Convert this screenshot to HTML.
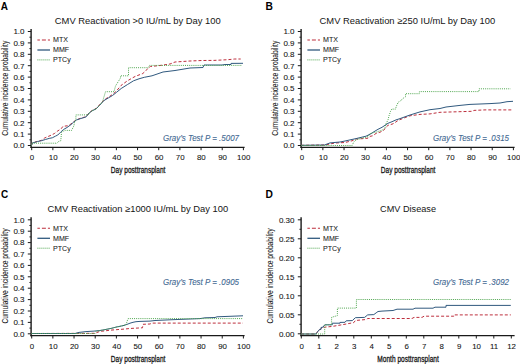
<!DOCTYPE html>
<html><head><meta charset="utf-8"><style>
html,body{margin:0;padding:0;background:#fff;}
svg{display:block;}
text{font-family:'Liberation Sans', sans-serif;}
</style></head><body>
<svg width="520" height="364" viewBox="0 0 520 364">
<rect width="520" height="364" fill="#fff"/>
<text x="0.7" y="9.8" font-size="11.4" font-weight="bold" fill="#000" textLength="7.2" lengthAdjust="spacingAndGlyphs">A</text>
<text x="54.8" y="24.1" font-size="9.35" fill="#151515" textLength="166.0" lengthAdjust="spacingAndGlyphs">CMV Reactivation &gt;0 IU/mL by Day 100</text>
<text transform="translate(7.9,135.8) rotate(-90)" x="0" y="0" font-size="8.8" fill="#151515" stroke="#151515" stroke-width="0.06" textLength="95" lengthAdjust="spacingAndGlyphs">Cumulative incidence probability</text>
<line x1="31.10" y1="29.0" x2="31.10" y2="148.0" stroke="#1a1a1a" stroke-width="1.4"/>
<line x1="30.40" y1="147.3" x2="244.6" y2="147.3" stroke="#1a1a1a" stroke-width="1.3"/>
<line x1="27.8" y1="145.50" x2="31.1" y2="145.50" stroke="#1a1a1a" stroke-width="1"/>
<text x="24.5" y="148.35" font-size="8" fill="#151515" stroke="#151515" stroke-width="0.08" text-anchor="end">0.0</text>
<line x1="29.4" y1="139.80" x2="31.1" y2="139.80" stroke="#1a1a1a" stroke-width="0.9"/>
<line x1="27.8" y1="134.10" x2="31.1" y2="134.10" stroke="#1a1a1a" stroke-width="1"/>
<text x="24.5" y="136.95" font-size="8" fill="#151515" stroke="#151515" stroke-width="0.08" text-anchor="end">0.1</text>
<line x1="29.4" y1="128.40" x2="31.1" y2="128.40" stroke="#1a1a1a" stroke-width="0.9"/>
<line x1="27.8" y1="122.70" x2="31.1" y2="122.70" stroke="#1a1a1a" stroke-width="1"/>
<text x="24.5" y="125.55" font-size="8" fill="#151515" stroke="#151515" stroke-width="0.08" text-anchor="end">0.2</text>
<line x1="29.4" y1="117.00" x2="31.1" y2="117.00" stroke="#1a1a1a" stroke-width="0.9"/>
<line x1="27.8" y1="111.30" x2="31.1" y2="111.30" stroke="#1a1a1a" stroke-width="1"/>
<text x="24.5" y="114.15" font-size="8" fill="#151515" stroke="#151515" stroke-width="0.08" text-anchor="end">0.3</text>
<line x1="29.4" y1="105.60" x2="31.1" y2="105.60" stroke="#1a1a1a" stroke-width="0.9"/>
<line x1="27.8" y1="99.90" x2="31.1" y2="99.90" stroke="#1a1a1a" stroke-width="1"/>
<text x="24.5" y="102.75" font-size="8" fill="#151515" stroke="#151515" stroke-width="0.08" text-anchor="end">0.4</text>
<line x1="29.4" y1="94.20" x2="31.1" y2="94.20" stroke="#1a1a1a" stroke-width="0.9"/>
<line x1="27.8" y1="88.50" x2="31.1" y2="88.50" stroke="#1a1a1a" stroke-width="1"/>
<text x="24.5" y="91.35" font-size="8" fill="#151515" stroke="#151515" stroke-width="0.08" text-anchor="end">0.5</text>
<line x1="29.4" y1="82.80" x2="31.1" y2="82.80" stroke="#1a1a1a" stroke-width="0.9"/>
<line x1="27.8" y1="77.10" x2="31.1" y2="77.10" stroke="#1a1a1a" stroke-width="1"/>
<text x="24.5" y="79.95" font-size="8" fill="#151515" stroke="#151515" stroke-width="0.08" text-anchor="end">0.6</text>
<line x1="29.4" y1="71.40" x2="31.1" y2="71.40" stroke="#1a1a1a" stroke-width="0.9"/>
<line x1="27.8" y1="65.70" x2="31.1" y2="65.70" stroke="#1a1a1a" stroke-width="1"/>
<text x="24.5" y="68.55" font-size="8" fill="#151515" stroke="#151515" stroke-width="0.08" text-anchor="end">0.7</text>
<line x1="29.4" y1="60.00" x2="31.1" y2="60.00" stroke="#1a1a1a" stroke-width="0.9"/>
<line x1="27.8" y1="54.30" x2="31.1" y2="54.30" stroke="#1a1a1a" stroke-width="1"/>
<text x="24.5" y="57.15" font-size="8" fill="#151515" stroke="#151515" stroke-width="0.08" text-anchor="end">0.8</text>
<line x1="29.4" y1="48.60" x2="31.1" y2="48.60" stroke="#1a1a1a" stroke-width="0.9"/>
<line x1="27.8" y1="42.90" x2="31.1" y2="42.90" stroke="#1a1a1a" stroke-width="1"/>
<text x="24.5" y="45.75" font-size="8" fill="#151515" stroke="#151515" stroke-width="0.08" text-anchor="end">0.9</text>
<line x1="29.4" y1="37.20" x2="31.1" y2="37.20" stroke="#1a1a1a" stroke-width="0.9"/>
<line x1="27.8" y1="31.50" x2="31.1" y2="31.50" stroke="#1a1a1a" stroke-width="1"/>
<text x="24.5" y="34.35" font-size="8" fill="#151515" stroke="#151515" stroke-width="0.08" text-anchor="end">1.0</text>
<line x1="31.70" y1="147.0" x2="31.70" y2="150.2" stroke="#1a1a1a" stroke-width="1"/>
<text x="32.00" y="160.2" font-size="7.9" fill="#151515" stroke="#151515" stroke-width="0.08" text-anchor="middle">0</text>
<line x1="52.87" y1="147.0" x2="52.87" y2="150.2" stroke="#1a1a1a" stroke-width="1"/>
<text x="53.17" y="160.2" font-size="7.9" fill="#151515" stroke="#151515" stroke-width="0.08" text-anchor="middle">10</text>
<line x1="74.04" y1="147.0" x2="74.04" y2="150.2" stroke="#1a1a1a" stroke-width="1"/>
<text x="74.34" y="160.2" font-size="7.9" fill="#151515" stroke="#151515" stroke-width="0.08" text-anchor="middle">20</text>
<line x1="95.21" y1="147.0" x2="95.21" y2="150.2" stroke="#1a1a1a" stroke-width="1"/>
<text x="95.51" y="160.2" font-size="7.9" fill="#151515" stroke="#151515" stroke-width="0.08" text-anchor="middle">30</text>
<line x1="116.38" y1="147.0" x2="116.38" y2="150.2" stroke="#1a1a1a" stroke-width="1"/>
<text x="116.68" y="160.2" font-size="7.9" fill="#151515" stroke="#151515" stroke-width="0.08" text-anchor="middle">40</text>
<line x1="137.55" y1="147.0" x2="137.55" y2="150.2" stroke="#1a1a1a" stroke-width="1"/>
<text x="137.85" y="160.2" font-size="7.9" fill="#151515" stroke="#151515" stroke-width="0.08" text-anchor="middle">50</text>
<line x1="158.72" y1="147.0" x2="158.72" y2="150.2" stroke="#1a1a1a" stroke-width="1"/>
<text x="159.02" y="160.2" font-size="7.9" fill="#151515" stroke="#151515" stroke-width="0.08" text-anchor="middle">60</text>
<line x1="179.89" y1="147.0" x2="179.89" y2="150.2" stroke="#1a1a1a" stroke-width="1"/>
<text x="180.19" y="160.2" font-size="7.9" fill="#151515" stroke="#151515" stroke-width="0.08" text-anchor="middle">70</text>
<line x1="201.06" y1="147.0" x2="201.06" y2="150.2" stroke="#1a1a1a" stroke-width="1"/>
<text x="201.36" y="160.2" font-size="7.9" fill="#151515" stroke="#151515" stroke-width="0.08" text-anchor="middle">80</text>
<line x1="222.23" y1="147.0" x2="222.23" y2="150.2" stroke="#1a1a1a" stroke-width="1"/>
<text x="222.53" y="160.2" font-size="7.9" fill="#151515" stroke="#151515" stroke-width="0.08" text-anchor="middle">90</text>
<line x1="243.40" y1="147.0" x2="243.40" y2="150.2" stroke="#1a1a1a" stroke-width="1"/>
<text x="243.70" y="160.2" font-size="7.9" fill="#151515" stroke="#151515" stroke-width="0.08" text-anchor="middle">100</text>
<text x="110.8" y="173.3" font-size="9.4" fill="#151515" stroke="#151515" stroke-width="0.3" textLength="54.6" lengthAdjust="spacingAndGlyphs">Day posttransplant</text>
<line x1="37.4" y1="40.0" x2="50.0" y2="40.0" stroke="#bd2f3d" stroke-width="1.1" stroke-dasharray="4,2" stroke-dashoffset="1.5"/>
<line x1="37.4" y1="50.0" x2="50.0" y2="50.0" stroke="#30597e" stroke-width="1.3"/>
<line x1="37.4" y1="59.9" x2="50.0" y2="59.9" stroke="#4fa64f" stroke-width="1" stroke-dasharray="1,1"/>
<text x="53.0" y="42.3" font-size="7.1" fill="#151515" stroke="#151515" stroke-width="0.04">MTX</text>
<text x="53.0" y="52.3" font-size="7.1" fill="#151515" stroke="#151515" stroke-width="0.04">MMF</text>
<text x="53.0" y="62.3" font-size="7.1" fill="#151515" stroke="#151515" stroke-width="0.04">PTCy</text>
<text x="163.0" y="141.1" font-size="8.2" font-style="italic" fill="#426892" stroke="#426892" stroke-width="0.1" textLength="76.0" lengthAdjust="spacingAndGlyphs">Gray’s Test <tspan>P</tspan> = .5007</text>
<polyline points="31.5,145.5 32.3,143.0 37.7,141.3 41.5,140.3 44.6,138.0 50.0,135.7 54.3,133.6 57.2,131.3 61.2,128.7 63.0,126.3 67.6,125.8 71.0,124.0 73.3,122.0 76.2,120.0 80.2,118.4 84.9,117.0 86.2,116.5 89.2,112.7 92.3,110.4 96.2,108.4 99.4,105.0 104.0,100.0 108.6,97.0 112.5,94.5 116.3,91.2 121.0,85.5 127.4,80.8 135.0,76.5 142.8,73.5 145.8,70.8 148.2,68.0 150.5,66.5 160.0,65.5 170.0,64.0 175.0,62.0 190.0,61.0 202.0,60.5 214.0,60.4 227.8,59.7 234.8,59.0 240.7,59.0" fill="none" stroke="#bd2f3d" stroke-width="1.0" stroke-dasharray="3,2"/>
<polyline points="31.5,145.5 32.3,143.0 37.7,141.5 41.5,140.7 45.4,139.5 49.2,138.4 52.3,137.8 55.4,136.2 57.8,135.0 60.7,132.1 63.5,129.5 67.0,127.5 71.0,124.6 73.3,122.4 76.2,120.1 80.2,118.7 84.9,117.3 86.2,116.8 89.2,113.0 92.3,110.7 96.2,108.8 99.4,105.5 104.0,100.5 108.6,97.8 112.5,95.5 116.3,92.5 121.2,88.5 127.4,84.6 133.5,80.8 139.0,78.8 144.3,77.3 152.0,75.8 163.0,72.0 175.0,70.5 190.0,68.0 203.0,67.5 204.0,65.0 222.0,65.0 225.0,64.5 231.0,64.5 231.0,63.4 243.0,63.3" fill="none" stroke="#30597e" stroke-width="1.0"/>
<polyline points="31.5,145.5 32.0,143.2 57.0,143.2 58.5,141.5 60.8,140.7 61.5,132.4 63.0,131.2 65.3,130.4 71.6,130.4 73.9,125.8 74.5,122.3 75.9,120.0 75.9,114.9 88.0,114.9 89.2,113.0 92.3,110.7 96.2,108.8 99.4,105.5 102.5,101.7 105.5,91.7 114.0,91.7 115.5,86.0 120.5,78.0 120.5,75.8 128.5,75.8 128.5,67.7 148.2,67.7 149.5,65.4 242.0,65.4" fill="none" stroke="#4fa64f" stroke-width="1" stroke-dasharray="1,1.1"/>
<text x="265.6" y="9.8" font-size="11.4" font-weight="bold" fill="#000" textLength="7.4" lengthAdjust="spacingAndGlyphs">B</text>
<text x="319.6" y="24.1" font-size="9.35" fill="#151515" textLength="175.6" lengthAdjust="spacingAndGlyphs">CMV Reactivation ≥250 IU/mL by Day 100</text>
<text transform="translate(277.9,135.8) rotate(-90)" x="0" y="0" font-size="8.8" fill="#151515" stroke="#151515" stroke-width="0.06" textLength="95" lengthAdjust="spacingAndGlyphs">Cumulative incidence probability</text>
<line x1="301.10" y1="29.0" x2="301.10" y2="148.0" stroke="#1a1a1a" stroke-width="1.4"/>
<line x1="300.40" y1="147.3" x2="514.6" y2="147.3" stroke="#1a1a1a" stroke-width="1.3"/>
<line x1="297.8" y1="145.50" x2="301.1" y2="145.50" stroke="#1a1a1a" stroke-width="1"/>
<text x="294.5" y="148.35" font-size="8" fill="#151515" stroke="#151515" stroke-width="0.08" text-anchor="end">0.0</text>
<line x1="299.4" y1="139.80" x2="301.1" y2="139.80" stroke="#1a1a1a" stroke-width="0.9"/>
<line x1="297.8" y1="134.10" x2="301.1" y2="134.10" stroke="#1a1a1a" stroke-width="1"/>
<text x="294.5" y="136.95" font-size="8" fill="#151515" stroke="#151515" stroke-width="0.08" text-anchor="end">0.1</text>
<line x1="299.4" y1="128.40" x2="301.1" y2="128.40" stroke="#1a1a1a" stroke-width="0.9"/>
<line x1="297.8" y1="122.70" x2="301.1" y2="122.70" stroke="#1a1a1a" stroke-width="1"/>
<text x="294.5" y="125.55" font-size="8" fill="#151515" stroke="#151515" stroke-width="0.08" text-anchor="end">0.2</text>
<line x1="299.4" y1="117.00" x2="301.1" y2="117.00" stroke="#1a1a1a" stroke-width="0.9"/>
<line x1="297.8" y1="111.30" x2="301.1" y2="111.30" stroke="#1a1a1a" stroke-width="1"/>
<text x="294.5" y="114.15" font-size="8" fill="#151515" stroke="#151515" stroke-width="0.08" text-anchor="end">0.3</text>
<line x1="299.4" y1="105.60" x2="301.1" y2="105.60" stroke="#1a1a1a" stroke-width="0.9"/>
<line x1="297.8" y1="99.90" x2="301.1" y2="99.90" stroke="#1a1a1a" stroke-width="1"/>
<text x="294.5" y="102.75" font-size="8" fill="#151515" stroke="#151515" stroke-width="0.08" text-anchor="end">0.4</text>
<line x1="299.4" y1="94.20" x2="301.1" y2="94.20" stroke="#1a1a1a" stroke-width="0.9"/>
<line x1="297.8" y1="88.50" x2="301.1" y2="88.50" stroke="#1a1a1a" stroke-width="1"/>
<text x="294.5" y="91.35" font-size="8" fill="#151515" stroke="#151515" stroke-width="0.08" text-anchor="end">0.5</text>
<line x1="299.4" y1="82.80" x2="301.1" y2="82.80" stroke="#1a1a1a" stroke-width="0.9"/>
<line x1="297.8" y1="77.10" x2="301.1" y2="77.10" stroke="#1a1a1a" stroke-width="1"/>
<text x="294.5" y="79.95" font-size="8" fill="#151515" stroke="#151515" stroke-width="0.08" text-anchor="end">0.6</text>
<line x1="299.4" y1="71.40" x2="301.1" y2="71.40" stroke="#1a1a1a" stroke-width="0.9"/>
<line x1="297.8" y1="65.70" x2="301.1" y2="65.70" stroke="#1a1a1a" stroke-width="1"/>
<text x="294.5" y="68.55" font-size="8" fill="#151515" stroke="#151515" stroke-width="0.08" text-anchor="end">0.7</text>
<line x1="299.4" y1="60.00" x2="301.1" y2="60.00" stroke="#1a1a1a" stroke-width="0.9"/>
<line x1="297.8" y1="54.30" x2="301.1" y2="54.30" stroke="#1a1a1a" stroke-width="1"/>
<text x="294.5" y="57.15" font-size="8" fill="#151515" stroke="#151515" stroke-width="0.08" text-anchor="end">0.8</text>
<line x1="299.4" y1="48.60" x2="301.1" y2="48.60" stroke="#1a1a1a" stroke-width="0.9"/>
<line x1="297.8" y1="42.90" x2="301.1" y2="42.90" stroke="#1a1a1a" stroke-width="1"/>
<text x="294.5" y="45.75" font-size="8" fill="#151515" stroke="#151515" stroke-width="0.08" text-anchor="end">0.9</text>
<line x1="299.4" y1="37.20" x2="301.1" y2="37.20" stroke="#1a1a1a" stroke-width="0.9"/>
<line x1="297.8" y1="31.50" x2="301.1" y2="31.50" stroke="#1a1a1a" stroke-width="1"/>
<text x="294.5" y="34.35" font-size="8" fill="#151515" stroke="#151515" stroke-width="0.08" text-anchor="end">1.0</text>
<line x1="301.70" y1="147.0" x2="301.70" y2="150.2" stroke="#1a1a1a" stroke-width="1"/>
<text x="302.00" y="160.2" font-size="7.9" fill="#151515" stroke="#151515" stroke-width="0.08" text-anchor="middle">0</text>
<line x1="322.87" y1="147.0" x2="322.87" y2="150.2" stroke="#1a1a1a" stroke-width="1"/>
<text x="323.17" y="160.2" font-size="7.9" fill="#151515" stroke="#151515" stroke-width="0.08" text-anchor="middle">10</text>
<line x1="344.04" y1="147.0" x2="344.04" y2="150.2" stroke="#1a1a1a" stroke-width="1"/>
<text x="344.34" y="160.2" font-size="7.9" fill="#151515" stroke="#151515" stroke-width="0.08" text-anchor="middle">20</text>
<line x1="365.21" y1="147.0" x2="365.21" y2="150.2" stroke="#1a1a1a" stroke-width="1"/>
<text x="365.51" y="160.2" font-size="7.9" fill="#151515" stroke="#151515" stroke-width="0.08" text-anchor="middle">30</text>
<line x1="386.38" y1="147.0" x2="386.38" y2="150.2" stroke="#1a1a1a" stroke-width="1"/>
<text x="386.68" y="160.2" font-size="7.9" fill="#151515" stroke="#151515" stroke-width="0.08" text-anchor="middle">40</text>
<line x1="407.55" y1="147.0" x2="407.55" y2="150.2" stroke="#1a1a1a" stroke-width="1"/>
<text x="407.85" y="160.2" font-size="7.9" fill="#151515" stroke="#151515" stroke-width="0.08" text-anchor="middle">50</text>
<line x1="428.72" y1="147.0" x2="428.72" y2="150.2" stroke="#1a1a1a" stroke-width="1"/>
<text x="429.02" y="160.2" font-size="7.9" fill="#151515" stroke="#151515" stroke-width="0.08" text-anchor="middle">60</text>
<line x1="449.89" y1="147.0" x2="449.89" y2="150.2" stroke="#1a1a1a" stroke-width="1"/>
<text x="450.19" y="160.2" font-size="7.9" fill="#151515" stroke="#151515" stroke-width="0.08" text-anchor="middle">70</text>
<line x1="471.06" y1="147.0" x2="471.06" y2="150.2" stroke="#1a1a1a" stroke-width="1"/>
<text x="471.36" y="160.2" font-size="7.9" fill="#151515" stroke="#151515" stroke-width="0.08" text-anchor="middle">80</text>
<line x1="492.23" y1="147.0" x2="492.23" y2="150.2" stroke="#1a1a1a" stroke-width="1"/>
<text x="492.53" y="160.2" font-size="7.9" fill="#151515" stroke="#151515" stroke-width="0.08" text-anchor="middle">90</text>
<line x1="513.40" y1="147.0" x2="513.40" y2="150.2" stroke="#1a1a1a" stroke-width="1"/>
<text x="513.70" y="160.2" font-size="7.9" fill="#151515" stroke="#151515" stroke-width="0.08" text-anchor="middle">100</text>
<text x="380.8" y="173.3" font-size="9.4" fill="#151515" stroke="#151515" stroke-width="0.3" textLength="54.6" lengthAdjust="spacingAndGlyphs">Day posttransplant</text>
<line x1="307.4" y1="40.0" x2="320.0" y2="40.0" stroke="#bd2f3d" stroke-width="1.1" stroke-dasharray="4,2" stroke-dashoffset="1.5"/>
<line x1="307.4" y1="50.0" x2="320.0" y2="50.0" stroke="#30597e" stroke-width="1.3"/>
<line x1="307.4" y1="59.9" x2="320.0" y2="59.9" stroke="#4fa64f" stroke-width="1" stroke-dasharray="1,1"/>
<text x="323.0" y="42.3" font-size="7.1" fill="#151515" stroke="#151515" stroke-width="0.04">MTX</text>
<text x="323.0" y="52.3" font-size="7.1" fill="#151515" stroke="#151515" stroke-width="0.04">MMF</text>
<text x="323.0" y="62.3" font-size="7.1" fill="#151515" stroke="#151515" stroke-width="0.04">PTCy</text>
<text x="433.0" y="141.0" font-size="8.2" font-style="italic" fill="#426892" stroke="#426892" stroke-width="0.1" textLength="76.0" lengthAdjust="spacingAndGlyphs">Gray’s Test <tspan>P</tspan> = .0315</text>
<polyline points="301.2,145.3 325.0,145.0 335.0,143.0 345.0,142.5 352.0,140.8 356.0,139.0 362.0,138.7 368.0,138.2 370.0,136.4 373.0,135.7 376.0,133.4 380.0,132.2 383.0,130.8 385.0,128.8 386.0,127.3 388.0,125.3 390.0,124.8 393.0,123.8 396.0,121.9 398.0,120.5 405.0,117.6 410.0,115.8 420.0,114.4 430.0,113.9 440.0,112.3 456.0,111.8 472.0,111.3 474.0,110.4 485.0,109.9 512.3,109.9" fill="none" stroke="#bd2f3d" stroke-width="1.0" stroke-dasharray="3,2"/>
<polyline points="301.2,145.3 324.5,145.0 330.0,142.9 340.0,142.0 345.0,141.0 350.0,139.9 356.0,138.6 366.0,136.2 371.0,133.7 374.0,131.7 378.0,129.3 382.0,127.3 385.0,125.3 388.0,123.3 392.0,121.7 396.0,119.9 400.0,118.6 410.0,115.0 420.0,111.9 430.0,109.7 440.0,108.5 446.0,107.0 460.0,105.4 470.0,104.4 480.0,104.0 490.0,103.6 500.0,103.0 507.0,101.7 513.0,101.3" fill="none" stroke="#30597e" stroke-width="1.0"/>
<polyline points="301.2,145.5 352.2,145.5 353.5,142.5 355.0,140.5 358.0,139.2 362.0,138.2 368.0,136.7 370.0,133.7 373.0,132.7 376.0,132.2 383.0,129.8 385.0,127.8 386.0,123.8 388.0,119.9 389.0,115.9 390.5,111.4 391.7,109.1 395.5,109.1 396.3,106.4 398.2,102.2 400.5,101.0 402.5,98.7 405.5,96.8 405.5,93.7 419.4,93.7 419.4,91.6 479.0,91.6 479.0,88.8 510.6,88.8" fill="none" stroke="#4fa64f" stroke-width="1" stroke-dasharray="1,1.1"/>
<text x="0.9" y="198.1" font-size="11.4" font-weight="bold" fill="#000" textLength="7.2" lengthAdjust="spacingAndGlyphs">C</text>
<text x="47.5" y="212.3" font-size="9.35" fill="#151515" textLength="180.7" lengthAdjust="spacingAndGlyphs">CMV Reactivation ≥1000 IU/mL by Day 100</text>
<text transform="translate(7.9,323.5) rotate(-90)" x="0" y="0" font-size="8.8" fill="#151515" stroke="#151515" stroke-width="0.06" textLength="95" lengthAdjust="spacingAndGlyphs">Cumulative incidence probability</text>
<line x1="31.10" y1="217.3" x2="31.10" y2="336.3" stroke="#1a1a1a" stroke-width="1.4"/>
<line x1="30.40" y1="335.6" x2="244.6" y2="335.6" stroke="#1a1a1a" stroke-width="1.3"/>
<line x1="27.8" y1="333.80" x2="31.1" y2="333.80" stroke="#1a1a1a" stroke-width="1"/>
<text x="24.5" y="336.65" font-size="8" fill="#151515" stroke="#151515" stroke-width="0.08" text-anchor="end">0.0</text>
<line x1="29.4" y1="328.10" x2="31.1" y2="328.10" stroke="#1a1a1a" stroke-width="0.9"/>
<line x1="27.8" y1="322.40" x2="31.1" y2="322.40" stroke="#1a1a1a" stroke-width="1"/>
<text x="24.5" y="325.25" font-size="8" fill="#151515" stroke="#151515" stroke-width="0.08" text-anchor="end">0.1</text>
<line x1="29.4" y1="316.70" x2="31.1" y2="316.70" stroke="#1a1a1a" stroke-width="0.9"/>
<line x1="27.8" y1="311.00" x2="31.1" y2="311.00" stroke="#1a1a1a" stroke-width="1"/>
<text x="24.5" y="313.85" font-size="8" fill="#151515" stroke="#151515" stroke-width="0.08" text-anchor="end">0.2</text>
<line x1="29.4" y1="305.30" x2="31.1" y2="305.30" stroke="#1a1a1a" stroke-width="0.9"/>
<line x1="27.8" y1="299.60" x2="31.1" y2="299.60" stroke="#1a1a1a" stroke-width="1"/>
<text x="24.5" y="302.45" font-size="8" fill="#151515" stroke="#151515" stroke-width="0.08" text-anchor="end">0.3</text>
<line x1="29.4" y1="293.90" x2="31.1" y2="293.90" stroke="#1a1a1a" stroke-width="0.9"/>
<line x1="27.8" y1="288.20" x2="31.1" y2="288.20" stroke="#1a1a1a" stroke-width="1"/>
<text x="24.5" y="291.05" font-size="8" fill="#151515" stroke="#151515" stroke-width="0.08" text-anchor="end">0.4</text>
<line x1="29.4" y1="282.50" x2="31.1" y2="282.50" stroke="#1a1a1a" stroke-width="0.9"/>
<line x1="27.8" y1="276.80" x2="31.1" y2="276.80" stroke="#1a1a1a" stroke-width="1"/>
<text x="24.5" y="279.65" font-size="8" fill="#151515" stroke="#151515" stroke-width="0.08" text-anchor="end">0.5</text>
<line x1="29.4" y1="271.10" x2="31.1" y2="271.10" stroke="#1a1a1a" stroke-width="0.9"/>
<line x1="27.8" y1="265.40" x2="31.1" y2="265.40" stroke="#1a1a1a" stroke-width="1"/>
<text x="24.5" y="268.25" font-size="8" fill="#151515" stroke="#151515" stroke-width="0.08" text-anchor="end">0.6</text>
<line x1="29.4" y1="259.70" x2="31.1" y2="259.70" stroke="#1a1a1a" stroke-width="0.9"/>
<line x1="27.8" y1="254.00" x2="31.1" y2="254.00" stroke="#1a1a1a" stroke-width="1"/>
<text x="24.5" y="256.85" font-size="8" fill="#151515" stroke="#151515" stroke-width="0.08" text-anchor="end">0.7</text>
<line x1="29.4" y1="248.30" x2="31.1" y2="248.30" stroke="#1a1a1a" stroke-width="0.9"/>
<line x1="27.8" y1="242.60" x2="31.1" y2="242.60" stroke="#1a1a1a" stroke-width="1"/>
<text x="24.5" y="245.45" font-size="8" fill="#151515" stroke="#151515" stroke-width="0.08" text-anchor="end">0.8</text>
<line x1="29.4" y1="236.90" x2="31.1" y2="236.90" stroke="#1a1a1a" stroke-width="0.9"/>
<line x1="27.8" y1="231.20" x2="31.1" y2="231.20" stroke="#1a1a1a" stroke-width="1"/>
<text x="24.5" y="234.05" font-size="8" fill="#151515" stroke="#151515" stroke-width="0.08" text-anchor="end">0.9</text>
<line x1="29.4" y1="225.50" x2="31.1" y2="225.50" stroke="#1a1a1a" stroke-width="0.9"/>
<line x1="27.8" y1="219.80" x2="31.1" y2="219.80" stroke="#1a1a1a" stroke-width="1"/>
<text x="24.5" y="222.65" font-size="8" fill="#151515" stroke="#151515" stroke-width="0.08" text-anchor="end">1.0</text>
<line x1="31.70" y1="335.3" x2="31.70" y2="338.5" stroke="#1a1a1a" stroke-width="1"/>
<text x="32.00" y="348.5" font-size="7.9" fill="#151515" stroke="#151515" stroke-width="0.08" text-anchor="middle">0</text>
<line x1="52.87" y1="335.3" x2="52.87" y2="338.5" stroke="#1a1a1a" stroke-width="1"/>
<text x="53.17" y="348.5" font-size="7.9" fill="#151515" stroke="#151515" stroke-width="0.08" text-anchor="middle">10</text>
<line x1="74.04" y1="335.3" x2="74.04" y2="338.5" stroke="#1a1a1a" stroke-width="1"/>
<text x="74.34" y="348.5" font-size="7.9" fill="#151515" stroke="#151515" stroke-width="0.08" text-anchor="middle">20</text>
<line x1="95.21" y1="335.3" x2="95.21" y2="338.5" stroke="#1a1a1a" stroke-width="1"/>
<text x="95.51" y="348.5" font-size="7.9" fill="#151515" stroke="#151515" stroke-width="0.08" text-anchor="middle">30</text>
<line x1="116.38" y1="335.3" x2="116.38" y2="338.5" stroke="#1a1a1a" stroke-width="1"/>
<text x="116.68" y="348.5" font-size="7.9" fill="#151515" stroke="#151515" stroke-width="0.08" text-anchor="middle">40</text>
<line x1="137.55" y1="335.3" x2="137.55" y2="338.5" stroke="#1a1a1a" stroke-width="1"/>
<text x="137.85" y="348.5" font-size="7.9" fill="#151515" stroke="#151515" stroke-width="0.08" text-anchor="middle">50</text>
<line x1="158.72" y1="335.3" x2="158.72" y2="338.5" stroke="#1a1a1a" stroke-width="1"/>
<text x="159.02" y="348.5" font-size="7.9" fill="#151515" stroke="#151515" stroke-width="0.08" text-anchor="middle">60</text>
<line x1="179.89" y1="335.3" x2="179.89" y2="338.5" stroke="#1a1a1a" stroke-width="1"/>
<text x="180.19" y="348.5" font-size="7.9" fill="#151515" stroke="#151515" stroke-width="0.08" text-anchor="middle">70</text>
<line x1="201.06" y1="335.3" x2="201.06" y2="338.5" stroke="#1a1a1a" stroke-width="1"/>
<text x="201.36" y="348.5" font-size="7.9" fill="#151515" stroke="#151515" stroke-width="0.08" text-anchor="middle">80</text>
<line x1="222.23" y1="335.3" x2="222.23" y2="338.5" stroke="#1a1a1a" stroke-width="1"/>
<text x="222.53" y="348.5" font-size="7.9" fill="#151515" stroke="#151515" stroke-width="0.08" text-anchor="middle">90</text>
<line x1="243.40" y1="335.3" x2="243.40" y2="338.5" stroke="#1a1a1a" stroke-width="1"/>
<text x="243.70" y="348.5" font-size="7.9" fill="#151515" stroke="#151515" stroke-width="0.08" text-anchor="middle">100</text>
<text x="110.8" y="361.6" font-size="9.4" fill="#151515" stroke="#151515" stroke-width="0.3" textLength="54.6" lengthAdjust="spacingAndGlyphs">Day posttransplant</text>
<line x1="37.4" y1="228.3" x2="50.0" y2="228.3" stroke="#bd2f3d" stroke-width="1.1" stroke-dasharray="4,2" stroke-dashoffset="1.5"/>
<line x1="37.4" y1="238.3" x2="50.0" y2="238.3" stroke="#30597e" stroke-width="1.3"/>
<line x1="37.4" y1="248.2" x2="50.0" y2="248.2" stroke="#4fa64f" stroke-width="1" stroke-dasharray="1,1"/>
<text x="53.0" y="230.6" font-size="7.1" fill="#151515" stroke="#151515" stroke-width="0.04">MTX</text>
<text x="53.0" y="240.6" font-size="7.1" fill="#151515" stroke="#151515" stroke-width="0.04">MMF</text>
<text x="53.0" y="250.6" font-size="7.1" fill="#151515" stroke="#151515" stroke-width="0.04">PTCy</text>
<text x="163.0" y="285.0" font-size="8.2" font-style="italic" fill="#426892" stroke="#426892" stroke-width="0.1" textLength="76.0" lengthAdjust="spacingAndGlyphs">Gray’s Test <tspan>P</tspan> = .0905</text>
<polyline points="31.5,333.5 95.0,333.3 100.0,331.3 105.0,330.9 110.0,330.2 115.0,329.8 120.0,329.4 125.0,329.0 130.0,328.5 135.0,328.2 142.5,327.8 143.0,324.3 150.0,324.0 152.0,323.1 243.0,323.1" fill="none" stroke="#bd2f3d" stroke-width="1.0" stroke-dasharray="3,2"/>
<polyline points="31.5,333.5 75.0,333.5 79.0,332.4 86.0,331.6 94.0,331.1 100.0,330.5 104.0,329.8 108.0,329.0 112.0,328.2 116.0,327.1 120.0,326.3 124.0,325.4 127.0,324.4 130.0,323.2 133.0,322.3 136.0,321.7 140.0,321.4 150.0,321.1 155.0,320.5 170.0,319.8 200.0,318.6 205.0,317.8 215.0,317.5 217.0,316.8 230.0,316.3 243.0,315.8" fill="none" stroke="#30597e" stroke-width="1.0"/>
<polyline points="31.5,333.5 95.0,333.5 96.0,331.3 100.0,330.5 104.0,329.8 108.0,329.0 112.0,328.2 116.0,327.1 120.0,326.3 124.0,325.4 126.0,324.8 128.0,318.6 243.0,318.6" fill="none" stroke="#4fa64f" stroke-width="1" stroke-dasharray="1,1.1"/>
<text x="265.6" y="198.1" font-size="11.4" font-weight="bold" fill="#000" textLength="7.4" lengthAdjust="spacingAndGlyphs">D</text>
<text x="380.1" y="212.3" font-size="9.35" fill="#151515" textLength="55.9" lengthAdjust="spacingAndGlyphs">CMV Disease</text>
<text transform="translate(272.9,323.5) rotate(-90)" x="0" y="0" font-size="8.8" fill="#151515" stroke="#151515" stroke-width="0.06" textLength="95" lengthAdjust="spacingAndGlyphs">Cumulative incidence probability</text>
<line x1="301.10" y1="217.3" x2="301.10" y2="336.3" stroke="#1a1a1a" stroke-width="1.4"/>
<line x1="300.40" y1="335.6" x2="514.6" y2="335.6" stroke="#1a1a1a" stroke-width="1.3"/>
<line x1="297.8" y1="333.80" x2="301.1" y2="333.80" stroke="#1a1a1a" stroke-width="1"/>
<text x="294.5" y="336.65" font-size="8" fill="#151515" stroke="#151515" stroke-width="0.08" text-anchor="end">0.00</text>
<line x1="299.4" y1="324.30" x2="301.1" y2="324.30" stroke="#1a1a1a" stroke-width="0.9"/>
<line x1="297.8" y1="314.80" x2="301.1" y2="314.80" stroke="#1a1a1a" stroke-width="1"/>
<text x="294.5" y="317.65" font-size="8" fill="#151515" stroke="#151515" stroke-width="0.08" text-anchor="end">0.05</text>
<line x1="299.4" y1="305.30" x2="301.1" y2="305.30" stroke="#1a1a1a" stroke-width="0.9"/>
<line x1="297.8" y1="295.80" x2="301.1" y2="295.80" stroke="#1a1a1a" stroke-width="1"/>
<text x="294.5" y="298.65" font-size="8" fill="#151515" stroke="#151515" stroke-width="0.08" text-anchor="end">0.10</text>
<line x1="299.4" y1="286.30" x2="301.1" y2="286.30" stroke="#1a1a1a" stroke-width="0.9"/>
<line x1="297.8" y1="276.80" x2="301.1" y2="276.80" stroke="#1a1a1a" stroke-width="1"/>
<text x="294.5" y="279.65" font-size="8" fill="#151515" stroke="#151515" stroke-width="0.08" text-anchor="end">0.15</text>
<line x1="299.4" y1="267.30" x2="301.1" y2="267.30" stroke="#1a1a1a" stroke-width="0.9"/>
<line x1="297.8" y1="257.80" x2="301.1" y2="257.80" stroke="#1a1a1a" stroke-width="1"/>
<text x="294.5" y="260.65" font-size="8" fill="#151515" stroke="#151515" stroke-width="0.08" text-anchor="end">0.20</text>
<line x1="299.4" y1="248.30" x2="301.1" y2="248.30" stroke="#1a1a1a" stroke-width="0.9"/>
<line x1="297.8" y1="238.80" x2="301.1" y2="238.80" stroke="#1a1a1a" stroke-width="1"/>
<text x="294.5" y="241.65" font-size="8" fill="#151515" stroke="#151515" stroke-width="0.08" text-anchor="end">0.25</text>
<line x1="299.4" y1="229.30" x2="301.1" y2="229.30" stroke="#1a1a1a" stroke-width="0.9"/>
<line x1="297.8" y1="219.80" x2="301.1" y2="219.80" stroke="#1a1a1a" stroke-width="1"/>
<text x="294.5" y="222.65" font-size="8" fill="#151515" stroke="#151515" stroke-width="0.08" text-anchor="end">0.30</text>
<line x1="301.30" y1="335.3" x2="301.30" y2="338.5" stroke="#1a1a1a" stroke-width="1"/>
<text x="301.60" y="348.5" font-size="7.9" fill="#151515" stroke="#151515" stroke-width="0.08" text-anchor="middle">0</text>
<line x1="318.80" y1="335.3" x2="318.80" y2="338.5" stroke="#1a1a1a" stroke-width="1"/>
<text x="319.10" y="348.5" font-size="7.9" fill="#151515" stroke="#151515" stroke-width="0.08" text-anchor="middle">1</text>
<line x1="336.30" y1="335.3" x2="336.30" y2="338.5" stroke="#1a1a1a" stroke-width="1"/>
<text x="336.60" y="348.5" font-size="7.9" fill="#151515" stroke="#151515" stroke-width="0.08" text-anchor="middle">2</text>
<line x1="353.80" y1="335.3" x2="353.80" y2="338.5" stroke="#1a1a1a" stroke-width="1"/>
<text x="354.10" y="348.5" font-size="7.9" fill="#151515" stroke="#151515" stroke-width="0.08" text-anchor="middle">3</text>
<line x1="371.30" y1="335.3" x2="371.30" y2="338.5" stroke="#1a1a1a" stroke-width="1"/>
<text x="371.60" y="348.5" font-size="7.9" fill="#151515" stroke="#151515" stroke-width="0.08" text-anchor="middle">4</text>
<line x1="388.80" y1="335.3" x2="388.80" y2="338.5" stroke="#1a1a1a" stroke-width="1"/>
<text x="389.10" y="348.5" font-size="7.9" fill="#151515" stroke="#151515" stroke-width="0.08" text-anchor="middle">5</text>
<line x1="406.30" y1="335.3" x2="406.30" y2="338.5" stroke="#1a1a1a" stroke-width="1"/>
<text x="406.60" y="348.5" font-size="7.9" fill="#151515" stroke="#151515" stroke-width="0.08" text-anchor="middle">6</text>
<line x1="423.80" y1="335.3" x2="423.80" y2="338.5" stroke="#1a1a1a" stroke-width="1"/>
<text x="424.10" y="348.5" font-size="7.9" fill="#151515" stroke="#151515" stroke-width="0.08" text-anchor="middle">7</text>
<line x1="441.30" y1="335.3" x2="441.30" y2="338.5" stroke="#1a1a1a" stroke-width="1"/>
<text x="441.60" y="348.5" font-size="7.9" fill="#151515" stroke="#151515" stroke-width="0.08" text-anchor="middle">8</text>
<line x1="458.80" y1="335.3" x2="458.80" y2="338.5" stroke="#1a1a1a" stroke-width="1"/>
<text x="459.10" y="348.5" font-size="7.9" fill="#151515" stroke="#151515" stroke-width="0.08" text-anchor="middle">9</text>
<line x1="476.30" y1="335.3" x2="476.30" y2="338.5" stroke="#1a1a1a" stroke-width="1"/>
<text x="476.60" y="348.5" font-size="7.9" fill="#151515" stroke="#151515" stroke-width="0.08" text-anchor="middle">10</text>
<line x1="493.80" y1="335.3" x2="493.80" y2="338.5" stroke="#1a1a1a" stroke-width="1"/>
<text x="494.10" y="348.5" font-size="7.9" fill="#151515" stroke="#151515" stroke-width="0.08" text-anchor="middle">11</text>
<line x1="511.30" y1="335.3" x2="511.30" y2="338.5" stroke="#1a1a1a" stroke-width="1"/>
<text x="511.60" y="348.5" font-size="7.9" fill="#151515" stroke="#151515" stroke-width="0.08" text-anchor="middle">12</text>
<text x="377.3" y="361.6" font-size="9.4" fill="#151515" stroke="#151515" stroke-width="0.3" textLength="61.5" lengthAdjust="spacingAndGlyphs">Month posttransplant</text>
<line x1="307.4" y1="228.3" x2="320.0" y2="228.3" stroke="#bd2f3d" stroke-width="1.1" stroke-dasharray="4,2" stroke-dashoffset="1.5"/>
<line x1="307.4" y1="238.3" x2="320.0" y2="238.3" stroke="#30597e" stroke-width="1.3"/>
<line x1="307.4" y1="248.2" x2="320.0" y2="248.2" stroke="#4fa64f" stroke-width="1" stroke-dasharray="1,1"/>
<text x="323.0" y="230.6" font-size="7.1" fill="#151515" stroke="#151515" stroke-width="0.04">MTX</text>
<text x="323.0" y="240.6" font-size="7.1" fill="#151515" stroke="#151515" stroke-width="0.04">MMF</text>
<text x="323.0" y="250.6" font-size="7.1" fill="#151515" stroke="#151515" stroke-width="0.04">PTCy</text>
<text x="433.0" y="285.2" font-size="8.2" font-style="italic" fill="#426892" stroke="#426892" stroke-width="0.1" textLength="76.0" lengthAdjust="spacingAndGlyphs">Gray’s Test <tspan>P</tspan> = .3092</text>
<polyline points="301.2,334.0 316.0,334.0 318.0,331.0 320.0,329.5 322.0,328.0 324.6,327.2 332.3,326.4 343.0,324.6 353.8,322.6 355.4,320.5 366.2,319.5 367.7,318.5 412.0,318.5 414.0,317.4 422.0,317.4 424.0,316.2 453.8,316.2 453.8,314.9 510.8,314.9" fill="none" stroke="#bd2f3d" stroke-width="1.0" stroke-dasharray="3,2"/>
<polyline points="301.2,334.0 316.0,334.0 317.0,332.5 319.5,329.4 321.0,329.4 321.0,327.5 323.0,327.1 324.7,324.8 332.3,324.8 332.3,323.2 340.0,323.2 340.0,322.4 345.0,322.3 346.2,320.8 352.3,320.6 355.4,317.7 364.6,317.4 367.7,314.9 373.8,314.6 376.9,312.3 378.0,311.5 382.0,311.1 393.0,310.5 397.0,309.2 413.0,309.2 415.0,308.2 433.0,308.2 435.0,307.2 446.0,307.2 446.0,305.4 510.8,305.4" fill="none" stroke="#30597e" stroke-width="1.0"/>
<polyline points="301.2,334.0 324.7,334.0 324.7,324.8 331.6,324.8 331.6,317.3 337.4,315.6 337.4,308.1 356.4,308.1 356.4,299.5 510.8,299.5" fill="none" stroke="#4fa64f" stroke-width="1" stroke-dasharray="1,1.1"/>
</svg>
</body></html>
